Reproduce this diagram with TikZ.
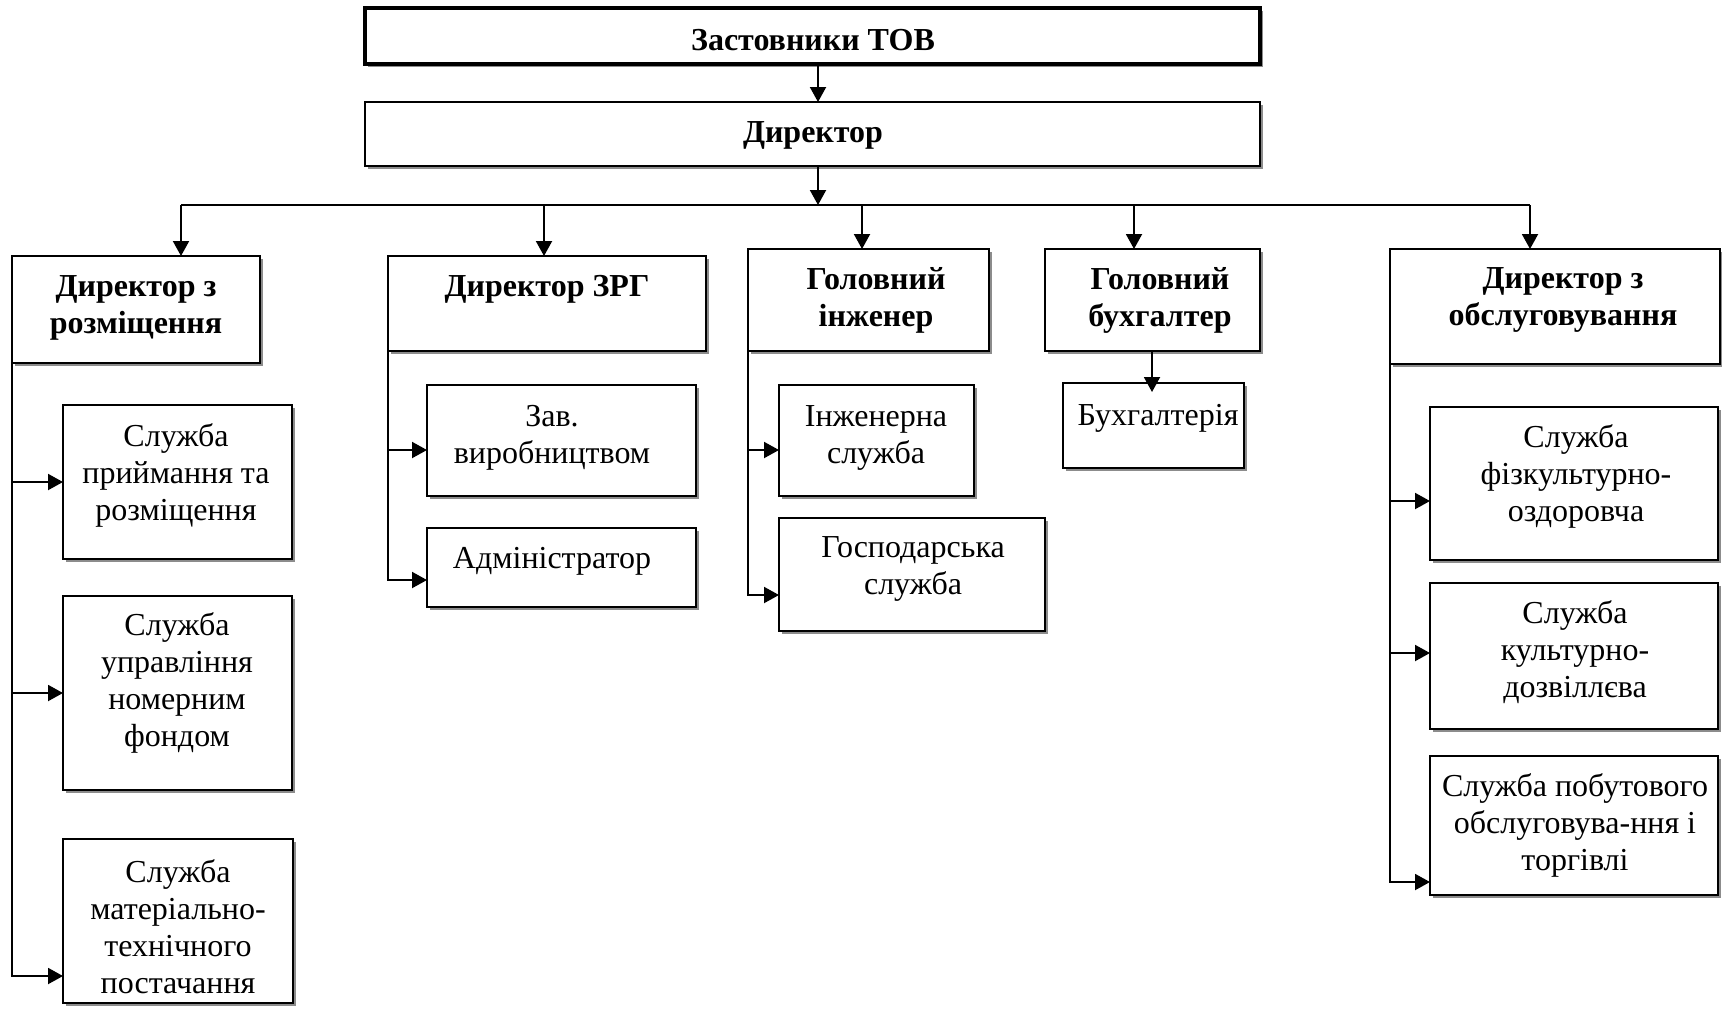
\documentclass[tikz,border=0pt]{standalone}
\usepackage{fontspec}
\setmainfont{Liberation Serif}
\usetikzlibrary{arrows.meta,shadows}
\tikzset{
  boxst/.style={draw=black, line width=1pt, fill=white, rectangle, inner sep=0pt, outer sep=0pt,
    drop shadow={shadow xshift=1.5pt, shadow yshift=-1.5pt, fill=black!45, opacity=1}},
  thickbox/.style={boxst, line width=1.6pt},
  txt/.style={font=\fontsize{16}{18.5}\selectfont, align=center, inner sep=0pt, yshift=-1pt},
  btxt/.style={txt, font=\fontsize{16}{18.5}\selectfont\bfseries},
  conn/.style={line width=1pt},
  arr/.style={conn, -{Triangle[length=7.5pt,width=8pt]}}
}
\newcommand\mkbox[6][]{\node[boxst,#1, minimum width={(#4-#2)*0.5pt}, minimum height={(#5-#3)*0.5pt}] (#6) at ({(#2+#4)/2},{(#3+#5)/2}) {};}
\begin{document}
\begin{tikzpicture}[x=0.5pt,y=-0.5pt]
\fill[white] (0,0) rectangle (1722,1008);
\useasboundingbox (0,0) rectangle (1722,1008);
% boxes
\mkbox[thickbox]{365}{8}{1260}{64}{zas}
\mkbox{365}{102}{1260}{166}{dir}
\mkbox{12}{256}{260}{363}{d1}
\mkbox{388}{256}{706}{351}{d2}
\mkbox{748}{249}{989}{351}{d3}
\mkbox{1045}{249}{1260}{351}{d4}
\mkbox{1390}{249}{1720}{364}{d5}
\mkbox{63}{405}{292}{559}{s11}
\mkbox{63}{596}{292}{790}{s12}
\mkbox{63}{839}{293}{1003}{s13}
\mkbox{427}{385}{696}{496}{s21}
\mkbox{427}{528}{696}{607}{s22}
\mkbox{779}{385}{974}{496}{s31}
\mkbox{779}{518}{1045}{631}{s32}
\mkbox{1063}{383}{1244}{468}{s41}
\mkbox{1430}{407}{1718}{560}{s51}
\mkbox{1430}{583}{1718}{729}{s52}
\mkbox{1430}{756}{1718}{895}{s53}
% texts
\node[btxt] (tzas) at (813,38) {Застовники ТОВ};
\node[btxt] (tdir) at (813,133) {Директор};
\node[btxt] (td1) at (136,306) {Директор з\\розміщення};
\node[btxt] (td2) at (547,287) {Директор ЗРГ};
\node[btxt] (td3) at (876,298) {Головний\\інженер};
\node[btxt] (td4) at (1160,298) {Головний\\бухгалтер};
\node[btxt] (td5) at (1563,298) {Директор з\\обслуговування};
\node[txt] (ts11) at (176,473) {Служба\\приймання та\\розміщення};
\node[txt] (ts12) at (177,681) {Служба\\управління\\номерним\\фондом};
\node[txt] (ts13) at (178,925) {Служба\\матеріально-\\технічного\\постачання};
\node[txt] (ts21) at (552,436) {Зав.\\виробництвом};
\node[txt] (ts22) at (552,559) {Адміністратор};
\node[txt] (ts31) at (876,436) {Інженерна\\служба};
\node[txt] (ts32) at (913,567) {Господарська\\служба};
\node[txt] (ts41) at (1158,416) {Бухгалтерія};
\node[txt] (ts51) at (1576,474) {Служба\\фізкультурно-\\оздоровча};
\node[txt] (ts52) at (1575,650) {Служба\\культурно-\\дозвіллєва};
\node[txt] (ts53) at (1575,823) {Служба побутового\\обслуговува-ння і\\торгівлі};
% top connectors
\coordinate (busL) at (181,205);
\coordinate (busR) at (1530,205);
\draw[arr] (818,0 |- zas.south) -- (818,0 |- dir.north);
\draw[arr] (818,0 |- dir.south) -- (818,205);
\draw[conn] (busL) -- (busR);
\draw[arr] (busL) -- (busL |- d1.north);
\draw[arr] (544,205) -- (544,0 |- d2.north);
\draw[arr] (862,205) -- (862,0 |- d3.north);
\draw[arr] (1134,205) -- (1134,0 |- d4.north);
\draw[arr] (busR) -- (busR |- d5.north);
% column 1
\draw[arr] (d1.south west) |- (s13.west |- 0,976);
\draw[arr] (d1.south west |- s11.west) -- (s11.west);
\draw[arr] (d1.south west |- s12.west) -- (s12.west);
% column 2
\draw[arr] (d2.south west) |- (s22.west |- 0,580);
\draw[arr] (d2.south west |- 0,450) -- (s21.west |- 0,450);
% column 3
\draw[arr] (d3.south west) |- (s32.west |- 0,595);
\draw[arr] (d3.south west |- 0,450) -- (s31.west |- 0,450);
% column 4
\draw[arr, shorten >=-4.5pt] (1152,0 |- d4.south) -- (1152,0 |- s41.north);
% column 5
\draw[arr] (d5.south west) |- (s53.west |- 0,882);
\draw[arr] (d5.south west |- 0,501) -- (s51.west |- 0,501);
\draw[arr] (d5.south west |- 0,653) -- (s52.west |- 0,653);
\end{tikzpicture}
\end{document}
